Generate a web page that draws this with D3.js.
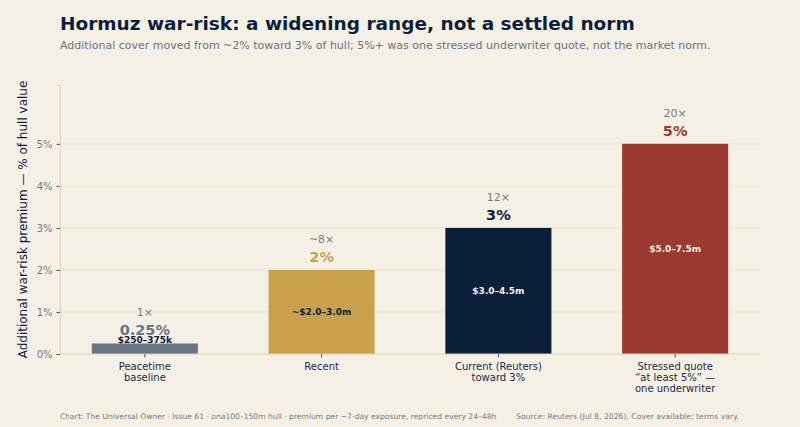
<!DOCTYPE html>
<html>
<meta charset=utf-8>
<head>
  <style>
    body { margin: 0; background: #f5f0e6; }
    svg { font-family: "DejaVu Sans", sans-serif; }
  </style>
</head>
<body>
<svg id="canvas" width="800" height="427"></svg>
<script src="https://d3js.org/d3.v7.min.js"></script>
<script>

var categories = ['Peacetime\nbaseline', 'Recent', 'Current (Reuters)\ntoward 3%', 'Stressed quote\n\u201cat least 5%\u201d \u2014\none underwriter'];
var premiums = [0.25, 2, 3, 5];
var valueLabels = ['0.25%', '2%', '3%', '5%'];
var multipliers = ['1\u00d7', '~8\u00d7', '12\u00d7', '20\u00d7'];
var dollarLabels = ['$250\u2013375k', '~$2.0\u20133.0m', '$3.0\u20134.5m', '$5.0\u20137.5m'];
var yTicks = [0, 1, 2, 3, 4, 5];

var barColors = ['#687582', '#c9a14c', '#0b1f3a', '#9b3a30'];
var innerColors = ['#0b1f3a', '#0b1f3a', '#f5f0e6', '#f5f0e6'];

var svg = d3.select('#canvas');
var margin = {left: 60, right: 40, top: 85, bottom: 73};
var W = 800, H = 427;

var x = d3.scaleBand()
  .domain(categories)
  .range([margin.left, W - margin.right])
  .paddingInner(0.4)
  .paddingOuter(0.18);

var y = d3.scaleLinear()
  .domain([0, 6.4])
  .range([H - margin.bottom, margin.top]);

// gridlines
svg.append('g')
  .selectAll('line')
  .data(yTicks.slice(1))
  .enter().append('line')
  .attr('x1', margin.left).attr('x2', W - margin.right)
  .attr('y1', function(d) { return y(d) }).attr('y2', function(d) { return y(d) })
  .attr('stroke', '#e8dfcc').attr('stroke-width', 0.8);

// y axis
var yAxis = svg.append('g')
  .attr('transform', 'translate(' + margin.left + ',0)')
  .call(d3.axisLeft(y).tickValues(yTicks).tickFormat(function(d) { return d + '%' }).tickSize(3.5).tickPadding(4));
yAxis.select('.domain').attr('stroke', '#ddd0b6');
yAxis.selectAll('.tick line').attr('stroke', '#555');
yAxis.selectAll('.tick text').attr('fill', '#7a7a7a').attr('font-size', 10).attr('font-family', 'DejaVu Sans');

// bars
var bars = svg.append('g').selectAll('g.bar')
  .data(premiums)
  .enter().append('g').attr('class', 'bar');

bars.append('rect')
  .attr('x', function(d, i) { return x(categories[i]) })
  .attr('width', x.bandwidth())
  .attr('y', function(d) { return y(d) })
  .attr('height', function(d) { return y(0) - y(d) })
  .attr('fill', function(d, i) { return barColors[i] });

bars.append('text')
  .attr('x', function(d, i) { return x(categories[i]) + x.bandwidth() / 2 })
  .attr('y', function(d) { return y(d) - 8 })
  .attr('text-anchor', 'middle')
  .attr('font-size', 14.5).attr('font-weight', 'bold')
  .attr('fill', function(d, i) { return barColors[i] })
  .text(function(d, i) { return valueLabels[i] });

bars.append('text')
  .attr('x', function(d, i) { return x(categories[i]) + x.bandwidth() / 2 })
  .attr('y', function(d) { return y(d) - 27 })
  .attr('text-anchor', 'middle')
  .attr('font-size', 11)
  .attr('fill', '#7a7a7a')
  .text(function(d, i) { return multipliers[i] });

// dollar range inside the bar, or sitting on a very short one
bars.append('text')
  .attr('x', function(d, i) { return x(categories[i]) + x.bandwidth() / 2 })
  .attr('y', function(d) {
    var h = y(0) - y(d);
    return h < 30 ? y(d) - 0.5 : (y(d) + y(0)) / 2 + 3.5;
  })
  .attr('text-anchor', 'middle')
  .attr('font-size', 9).attr('font-weight', 'bold')
  .attr('fill', function(d, i) { return innerColors[i] })
  .text(function(d, i) { return dollarLabels[i] });

// x axis
var xAxis = svg.append('g')
  .attr('transform', 'translate(0,' + y(0) + ')')
  .call(d3.axisBottom(x).tickSize(3.5).tickFormat(''));
xAxis.select('.domain').attr('stroke', '#ddd0b6').attr('d', 'M' + margin.left + ',0H' + (W - margin.right));
xAxis.selectAll('.tick line').attr('stroke', '#555');

svg.append('g').selectAll('text.xl')
  .data(categories)
  .enter().append('text')
  .attr('class', 'xl')
  .attr('text-anchor', 'middle')
  .attr('font-size', 10)
  .attr('fill', '#1c2a44')
  .attr('transform', function(d) { return 'translate(' + (x(d) + x.bandwidth() / 2) + ',' + (y(0) + 16) + ')' })
  .selectAll('tspan')
  .data(function(d) { return d.split('\n') })
  .enter().append('tspan')
  .attr('x', 0)
  .attr('dy', function(d, i) { return i === 0 ? 0 : 11 })
  .text(function(d) { return d });

// y axis label
svg.append('text')
  .attr('transform', 'translate(27,' + ((margin.top + y(0)) / 2) + ') rotate(-90)')
  .attr('text-anchor', 'middle')
  .attr('font-size', 12)
  .attr('fill', '#0b1f3a')
  .text('Additional war-risk premium \u2014 % of hull value');

// title
svg.append('text')
  .attr('x', 60).attr('y', 30)
  .attr('font-size', 18.5).attr('font-weight', 'bold')
  .attr('fill', '#0b1f3a')
  .text('Hormuz war-risk: a widening range, not a settled norm');

svg.append('text')
  .attr('x', 60).attr('y', 49)
  .attr('font-size', 11)
  .attr('fill', '#6b7280')
  .text('Additional cover moved from ~2% toward 3% of hull; 5%+ was one stressed underwriter quote, not the market norm.');

// footer
var foot = svg.append('text')
  .attr('x', 60).attr('y', 419)
  .attr('font-size', 7.6)
  .attr('fill', '#7a7a7a');
foot.append('tspan').text('Chart: The Universal Owner \u00b7 Issue 61 \u00b7 ');
foot.append('tspan').attr('font-style', 'italic').text('ona');
foot.append('tspan').text('100\u2013150m hull \u00b7 premium per ~7-day exposure, repriced every 24\u201348h');

svg.append('text')
  .attr('x', 516).attr('y', 419)
  .attr('font-size', 7.7)
  .attr('fill', '#7a7a7a')
  .text('Source: Reuters (Jul 8, 2026). Cover available; terms vary.');

</script>
</body>
</html>
